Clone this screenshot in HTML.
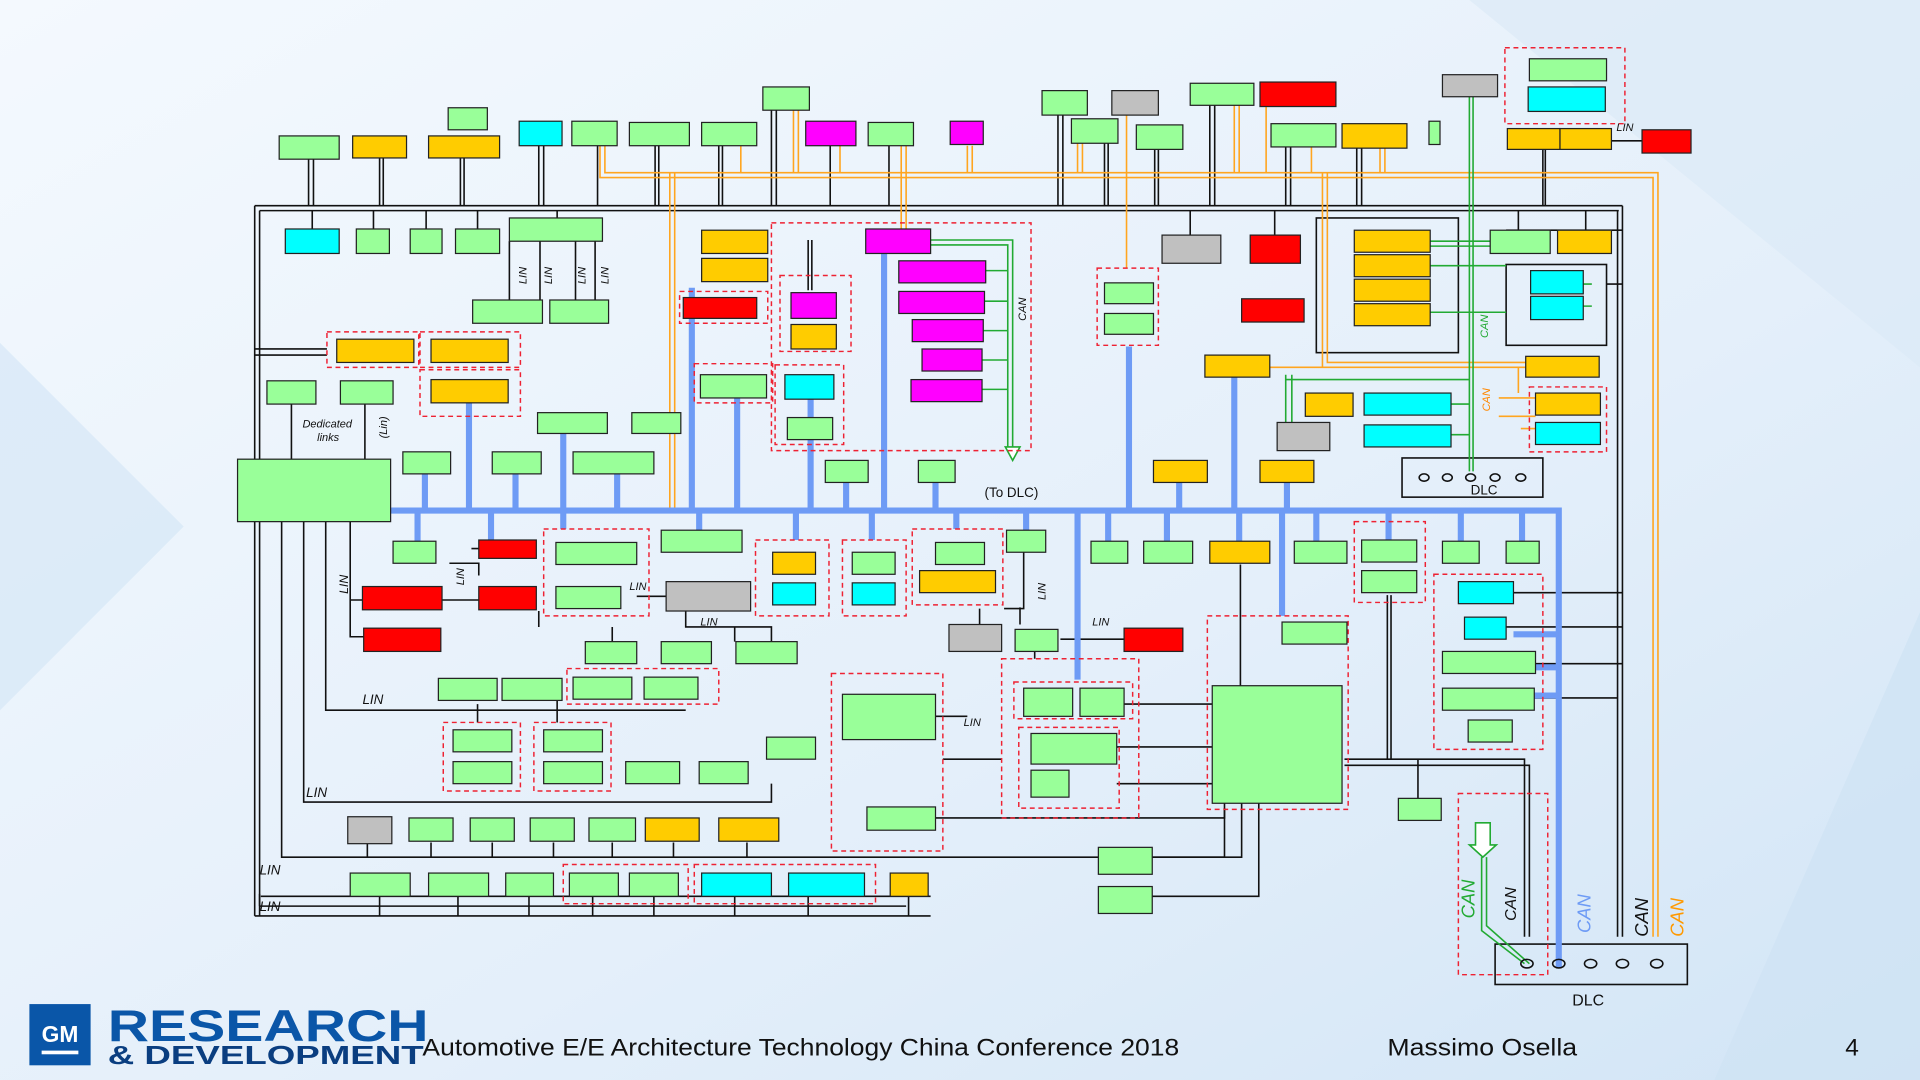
<!DOCTYPE html>
<html><head><meta charset="utf-8"><style>
html,body{margin:0;padding:0;width:1920px;height:1080px;overflow:hidden}
svg{display:block}
.g{fill:#99ff99}.y{fill:#ffcc00}.c{fill:#00ffff}.m{fill:#ff00ff}.r{fill:#ff0000}.s{fill:#c0c0c0}
.b rect, rect.b{stroke:#222;stroke-width:1}
.d{fill:none;stroke:#ee2233;stroke-width:1.2;stroke-dasharray:4 3}
.k{stroke:#111;stroke-width:1.3;fill:none}
.bl{stroke:#6e9bf5;stroke-width:5;fill:none}
.o{stroke:#ffa51f;stroke-width:1.3;fill:none}
.gr{stroke:#22aa33;stroke-width:1.3;fill:none}
.t{font-family:"Liberation Sans",sans-serif;font-style:italic;font-size:10px;fill:#111}
</style></head><body>
<svg width="1920" height="1080" viewBox="0 0 1568 882" preserveAspectRatio="none" xmlns="http://www.w3.org/2000/svg">
<defs><linearGradient id="bg" x1="0" y1="0" x2="1" y2="1"><stop offset="0" stop-color="#f4f9fe"/><stop offset="0.6" stop-color="#e4effa"/><stop offset="1" stop-color="#d2e5f6"/></linearGradient></defs>
<rect width="1568" height="882" fill="url(#bg)"/>
<polygon points="0,280 150,430 0,580" fill="#d6e7f6" opacity="0.7"/>
<polygon points="1200,0 1568,0 1568,300" fill="#dbe9f7" opacity="0.7"/>
<polygon points="1568,500 1400,882 1568,882" fill="#cfe2f4" opacity="0.7"/>

<g class="k">
<path d="M208,168H1325 M212,172H1322 M208,168V748 M212,172V740 M208,748H760 M212,740H740 M1325,168V765 M1321,172V765"/>
<path d="M252,130V168 M256,130V168 M310,129V168 M313,129V168 M376,129V168 M379,129V168 M440,119V168 M444,119V168 M488,119V168 M535,119V168 M538,119V168 M587,119V168 M590,119V168 M630,89V168 M634,89V168 M678,119V168 M726,119V168 M864,94V168 M868,94V168 M902,117V168 M905,117V168 M943,121V168 M946,121V168 M988,86V168 M992,86V168 M1050,120V168 M1054,120V168 M1108,121V168 M1112,121V168 M1260,122V168 M1262,122V168 M1316,115H1341"/>
<path d="M255,172V187 M305,172V187 M348,172V187 M390,172V187 M455,172V178 M416,197V245 M441,197V245 M470,197V245 M486,197V245 M660,196V237 M663,196V237 M972,172V192 M1041,172V192 M1240,172V188 M1295,172V188 M1230,188H1325 M1312,232H1325"/>
<path d="M238,330V375 M298,330V375 M208,285H267 M208,290H267 M230,426V700H1000V660 M248,426V655H630V640 M266,426V580H560 M286,426V520H297 M286,490H296 M385,448H391 M367,460H391V470 M360,490H391 M520,487H544 M560,499V512H630V524 M500,512V524 M440,499V512 M600,512V524 M390,575V590 M455,572V590 M213,732H760 M212,730V748 M310,732V748 M374,732V748 M432,732V748 M484,732V748 M534,732V748 M600,732V748 M660,732V748 M742,732V748"/>
<path d="M300,688V700 M352,688V700 M402,688V700 M452,688V700 M500,688V700 M550,688V700 M610,688V700 M764,585H790 M764,668H1000V656 M770,620H818 M836,451V497H820 M833,496V510 M800,497V510 M845,532V538 M866,522H918 M912,575H990 M912,610H990 M912,640H990 M930,575H990 M1013,461V560 M1014,656V700H940 M1028,656V732H940 M1098,620H1245V765 M1098,625H1249V765 M1133,486V620 M1136,486V620 M1158,620V652 M1236,484H1325 M1230,512H1325 M1254,542H1325 M1253,570H1321"/>
<rect x="1075" y="178" width="116" height="110"/><rect x="1230" y="216" width="82" height="66"/>
<rect x="1145" y="374" width="115" height="32"/><rect x="1221" y="771" width="157" height="33"/>
</g>
<g class="o">
<path d="M490,119V145H1350V765 M494,119V141H1354V765 M547,141V415 M551,141V415 M605,119V141 M648,89V141 M652,89V141 M686,119V141 M736,119V187 M740,119V187 M790,119V141 M794,119V141 M880,117V141 M884,117V141 M920,94V219 M1008,86V141 M1012,86V141 M1034,86V141 M1071,120V141 M1127,121V141 M1131,121V141 M1080,141V300H1246 M1084,141V296H1246 M1037,300H1080 M1240,300V321 M1224,325H1254 M1224,340H1254 M1242,350H1254"/>
</g>
<g class="gr">
<path d="M760,196H827V365 M760,200H823V365 M805,221H823 M804,246H823 M803,270H823 M802,294H823 M802,318H823 M1200,78V385 M1203,78V385 M1168,197H1217 M1168,201H1217 M1168,217H1230 M1168,255H1230 M1293,232H1300 M1293,250H1300 M1050,306V345 M1055,306V345 M1050,310H1200 M1185,330H1200 M1185,355H1200 M1210,700V760L1245,787 M1214,700V756L1249,787"/>
<path d="M821,365H833L827,376Z" fill="#fff"/>
<path d="M1205,672H1217V690H1222L1211,700L1200,690H1205Z" fill="#fff"/>
</g>
<g class="bl">
<path d="M319,417H1273V790"/>
<path d="M347,387V417 M421,387V417 M460,354V417 M504,387V417 M565,235V417 M602,324V417 M662,324V417 M691,393V417 M722,207V417 M764,393V417 M922,283V417 M963,393V417 M1008,308V417 M1051,393V417 M383,329V417 M341,417V442 M401,417V441 M460,417V432 M571,417V433 M650,417V441 M712,417V441 M781,417V432 M838,417V433 M880,417V555 M905,417V442 M953,417V442 M1012,417V442 M1047,417V503 M1075,417V442 M1134,417V441 M1193,417V442 M1243,417V442 M1236,518H1273 M1254,545H1273 M1253,568H1273"/>
</g>
<g class="d">
<rect x="1229" y="39" width="98" height="62"/><rect x="630" y="182" width="212" height="186"/><rect x="637" y="225" width="58" height="62"/><rect x="633" y="298" width="56" height="65"/><rect x="567" y="297" width="64" height="32"/><rect x="555" y="238" width="72" height="26"/>
<rect x="267" y="271" width="75" height="29"/><rect x="343" y="271" width="82" height="29"/><rect x="343" y="302" width="82" height="38"/><rect x="896" y="219" width="50" height="63"/><rect x="1249" y="316" width="63" height="53"/>
<rect x="444" y="432" width="86" height="71"/><rect x="617" y="441" width="60" height="62"/><rect x="688" y="441" width="52" height="62"/><rect x="745" y="432" width="74" height="62"/><rect x="1106" y="426" width="58" height="66"/><rect x="1171" y="469" width="89" height="143"/>
<rect x="463" y="546" width="124" height="29"/><rect x="362" y="590" width="63" height="56"/><rect x="436" y="590" width="63" height="56"/><rect x="679" y="550" width="91" height="145"/><rect x="818" y="538" width="112" height="130"/><rect x="828" y="557" width="97" height="30"/><rect x="832" y="594" width="82" height="66"/><rect x="986" y="503" width="115" height="158"/><rect x="460" y="706" width="102" height="32"/><rect x="567" y="706" width="148" height="32"/><rect x="1191" y="648" width="73" height="148"/>
</g>
<g class="b">
<rect class="g" x="228" y="111" width="49" height="19"/><rect class="y" x="288" y="111" width="44" height="18"/><rect class="y" x="350" y="111" width="58" height="18"/><rect class="g" x="366" y="88" width="32" height="18"/><rect class="c" x="424" y="99" width="35" height="20"/><rect class="g" x="467" y="99" width="37" height="20"/><rect class="g" x="514" y="100" width="49" height="19"/><rect class="g" x="573" y="100" width="45" height="19"/><rect class="g" x="623" y="71" width="38" height="19"/><rect class="m" x="658" y="99" width="41" height="20"/><rect class="g" x="709" y="100" width="37" height="19"/><rect class="m" x="776" y="99" width="27" height="19"/><rect class="g" x="851" y="74" width="37" height="20"/><rect class="s" x="908" y="74" width="38" height="20"/><rect class="g" x="875" y="97" width="38" height="20"/><rect class="g" x="928" y="102" width="38" height="20"/><rect class="g" x="972" y="68" width="52" height="18"/><rect class="r" x="1029" y="67" width="62" height="20"/><rect class="g" x="1038" y="101" width="53" height="19"/><rect class="y" x="1096" y="101" width="53" height="20"/><rect class="g" x="1167" y="99" width="9" height="19"/><rect class="s" x="1178" y="61" width="45" height="18"/><rect class="g" x="1249" y="48" width="63" height="18"/><rect class="c" x="1248" y="71" width="63" height="20"/><rect class="y" x="1231" y="105" width="43" height="17"/><rect class="y" x="1274" y="105" width="42" height="17"/><rect class="r" x="1341" y="106" width="40" height="19"/>
<rect class="c" x="233" y="187" width="44" height="20"/><rect class="g" x="291" y="187" width="27" height="20"/><rect class="g" x="335" y="187" width="26" height="20"/><rect class="g" x="372" y="187" width="36" height="20"/><rect class="g" x="416" y="178" width="76" height="19"/><rect class="g" x="386" y="245" width="57" height="19"/><rect class="g" x="449" y="245" width="48" height="19"/><rect class="y" x="573" y="188" width="54" height="19"/><rect class="y" x="573" y="211" width="54" height="19"/><rect class="r" x="558" y="243" width="60" height="17"/><rect class="m" x="707" y="187" width="53" height="20"/><rect class="m" x="734" y="213" width="71" height="18"/><rect class="m" x="734" y="238" width="70" height="18"/><rect class="m" x="745" y="261" width="58" height="18"/><rect class="m" x="753" y="285" width="49" height="18"/><rect class="m" x="744" y="310" width="58" height="18"/><rect class="m" x="646" y="239" width="37" height="21"/><rect class="y" x="646" y="265" width="37" height="20"/><rect class="c" x="641" y="306" width="40" height="20"/><rect class="g" x="643" y="341" width="37" height="18"/><rect class="g" x="572" y="306" width="54" height="19"/>
<rect class="y" x="275" y="277" width="63" height="19"/><rect class="y" x="352" y="277" width="63" height="19"/><rect class="y" x="352" y="310" width="63" height="19"/><rect class="g" x="218" y="311" width="40" height="19"/><rect class="g" x="278" y="311" width="43" height="19"/><rect class="g" x="194" y="375" width="125" height="51"/>
<rect class="g" x="439" y="337" width="57" height="17"/><rect class="g" x="516" y="337" width="40" height="17"/><rect class="g" x="329" y="369" width="39" height="18"/><rect class="g" x="402" y="369" width="40" height="18"/><rect class="g" x="468" y="369" width="66" height="18"/><rect class="g" x="674" y="376" width="35" height="18"/><rect class="g" x="750" y="376" width="30" height="18"/>
<rect class="g" x="902" y="231" width="40" height="17"/><rect class="g" x="902" y="256" width="40" height="17"/><rect class="s" x="949" y="192" width="48" height="23"/><rect class="r" x="1021" y="192" width="41" height="23"/><rect class="r" x="1014" y="244" width="51" height="19"/><rect class="y" x="984" y="290" width="53" height="18"/>
<rect class="y" x="1106" y="188" width="62" height="18"/><rect class="y" x="1106" y="208" width="62" height="18"/><rect class="y" x="1106" y="228" width="62" height="18"/><rect class="y" x="1106" y="248" width="62" height="18"/>
<rect class="g" x="1217" y="188" width="49" height="19"/><rect class="y" x="1272" y="188" width="44" height="19"/><rect class="c" x="1250" y="221" width="43" height="19"/><rect class="c" x="1250" y="242" width="43" height="19"/><rect class="y" x="1246" y="291" width="60" height="17"/><rect class="y" x="1066" y="321" width="39" height="19"/><rect class="c" x="1114" y="321" width="71" height="18"/><rect class="c" x="1114" y="347" width="71" height="18"/><rect class="s" x="1043" y="345" width="43" height="23"/><rect class="y" x="1254" y="321" width="53" height="18"/><rect class="c" x="1254" y="345" width="53" height="18"/><rect class="y" x="942" y="376" width="44" height="18"/><rect class="y" x="1029" y="376" width="44" height="18"/>
<rect class="g" x="321" y="442" width="35" height="18"/><rect class="r" x="391" y="441" width="47" height="15"/><rect class="g" x="454" y="443" width="66" height="18"/><rect class="g" x="454" y="479" width="53" height="18"/><rect class="r" x="296" y="479" width="65" height="19"/><rect class="r" x="391" y="479" width="47" height="19"/><rect class="r" x="297" y="513" width="63" height="19"/><rect class="g" x="540" y="433" width="66" height="18"/><rect class="s" x="544" y="475" width="69" height="24"/><rect class="y" x="631" y="451" width="35" height="18"/><rect class="c" x="631" y="476" width="35" height="18"/><rect class="g" x="696" y="451" width="35" height="18"/><rect class="c" x="696" y="476" width="35" height="18"/><rect class="g" x="764" y="443" width="40" height="18"/><rect class="y" x="751" y="466" width="62" height="18"/><rect class="g" x="822" y="433" width="32" height="18"/><rect class="s" x="775" y="510" width="43" height="22"/><rect class="g" x="829" y="514" width="35" height="18"/><rect class="r" x="918" y="513" width="48" height="19"/><rect class="g" x="891" y="442" width="30" height="18"/><rect class="g" x="934" y="442" width="40" height="18"/><rect class="y" x="988" y="442" width="49" height="18"/><rect class="g" x="1057" y="442" width="43" height="18"/><rect class="g" x="1112" y="441" width="45" height="18"/><rect class="g" x="1112" y="466" width="45" height="18"/><rect class="g" x="1178" y="442" width="30" height="18"/><rect class="g" x="1230" y="442" width="27" height="18"/><rect class="c" x="1191" y="475" width="45" height="18"/><rect class="c" x="1196" y="504" width="34" height="18"/><rect class="g" x="1178" y="532" width="76" height="18"/><rect class="g" x="1178" y="562" width="75" height="18"/><rect class="g" x="1199" y="588" width="36" height="18"/>
<rect class="g" x="478" y="524" width="42" height="18"/><rect class="g" x="540" y="524" width="41" height="18"/><rect class="g" x="601" y="524" width="50" height="18"/><rect class="g" x="358" y="554" width="48" height="18"/><rect class="g" x="410" y="554" width="49" height="18"/><rect class="g" x="468" y="553" width="48" height="18"/><rect class="g" x="526" y="553" width="44" height="18"/><rect class="g" x="370" y="596" width="48" height="18"/><rect class="g" x="370" y="622" width="48" height="18"/><rect class="g" x="444" y="596" width="48" height="18"/><rect class="g" x="444" y="622" width="48" height="18"/><rect class="g" x="511" y="622" width="44" height="18"/><rect class="g" x="571" y="622" width="40" height="18"/><rect class="g" x="626" y="602" width="40" height="18"/>
<rect class="g" x="688" y="567" width="76" height="37"/><rect class="g" x="708" y="659" width="56" height="19"/><rect class="g" x="836" y="562" width="40" height="23"/><rect class="g" x="882" y="562" width="36" height="23"/><rect class="g" x="842" y="599" width="70" height="25"/><rect class="g" x="842" y="629" width="31" height="22"/><rect class="g" x="990" y="560" width="106" height="96"/><rect class="g" x="1047" y="508" width="53" height="18"/><rect class="g" x="1142" y="652" width="35" height="18"/><rect class="g" x="897" y="692" width="44" height="22"/><rect class="g" x="897" y="724" width="44" height="22"/>
<rect class="s" x="284" y="667" width="36" height="22"/><rect class="g" x="334" y="668" width="36" height="19"/><rect class="g" x="384" y="668" width="36" height="19"/><rect class="g" x="433" y="668" width="36" height="19"/><rect class="g" x="481" y="668" width="38" height="19"/><rect class="y" x="527" y="668" width="44" height="19"/><rect class="y" x="587" y="668" width="49" height="19"/>
<rect class="g" x="286" y="713" width="49" height="19"/><rect class="g" x="350" y="713" width="49" height="19"/><rect class="g" x="413" y="713" width="39" height="19"/><rect class="g" x="465" y="713" width="40" height="19"/><rect class="g" x="514" y="713" width="40" height="19"/><rect class="c" x="573" y="713" width="57" height="19"/><rect class="c" x="644" y="713" width="62" height="19"/><rect class="y" x="727" y="713" width="31" height="19"/>
</g>
<g fill="none" stroke="#111" stroke-width="1.3">
<ellipse cx="1163" cy="390" rx="4" ry="3"/><ellipse cx="1182" cy="390" rx="4" ry="3"/><ellipse cx="1201" cy="390" rx="4" ry="3"/><ellipse cx="1221" cy="390" rx="4" ry="3"/><ellipse cx="1242" cy="390" rx="4" ry="3"/>
<ellipse cx="1247" cy="787" rx="5" ry="3.5"/><ellipse cx="1273" cy="787" rx="5" ry="3.5"/><ellipse cx="1299" cy="787" rx="5" ry="3.5"/><ellipse cx="1325" cy="787" rx="5" ry="3.5"/><ellipse cx="1353" cy="787" rx="5" ry="3.5"/>
</g>
<g class="t">
<text x="247" y="349" font-size="9">Dedicated</text><text x="259" y="360" font-size="9">links</text>
<text transform="translate(316,358) rotate(-90)" font-size="9">(Lin)</text>
<text transform="translate(430,232) rotate(-90)" font-size="9">LIN</text><text transform="translate(451,232) rotate(-90)" font-size="9">LIN</text><text transform="translate(478,232) rotate(-90)" font-size="9">LIN</text><text transform="translate(497,232) rotate(-90)" font-size="9">LIN</text>
<text transform="translate(838,262) rotate(-90)" font-size="9">CAN</text>
<text transform="translate(1215,276) rotate(-90)" font-size="9" fill="#22aa33">CAN</text>
<text transform="translate(1217,336) rotate(-90)" font-size="9" fill="#ff8800">CAN</text>
<text x="1320" y="107" font-size="9">LIN</text>
<text transform="translate(284,485) rotate(-90)">LIN</text><text transform="translate(379,478) rotate(-90)" font-size="9">LIN</text>
<text x="514" y="482" font-size="9">LIN</text><text x="572" y="511" font-size="9">LIN</text><text transform="translate(854,490) rotate(-90)" font-size="9">LIN</text><text x="892" y="511" font-size="9">LIN</text><text x="787" y="593" font-size="9">LIN</text>
<text x="296" y="575" font-size="11">LIN</text><text x="250" y="651" font-size="11">LIN</text><text x="212" y="714" font-size="11">LIN</text><text x="212" y="744" font-size="11">LIN</text>
<text x="804" y="406" font-style="normal" font-size="11">(To DLC)</text>
<text x="1201" y="404" font-style="normal" font-size="11">DLC</text>
<text x="1284" y="821" font-style="normal" font-size="13">DLC</text>
<text transform="translate(1204,750) rotate(-90)" font-size="15" fill="#22aa33">CAN</text>
<text transform="translate(1238,752) rotate(-90)" font-size="13">CAN</text>
<text transform="translate(1299,762) rotate(-90)" font-size="15" fill="#6e9bf5">CAN</text>
<text transform="translate(1346,765) rotate(-90)" font-size="15">CAN</text>
<text transform="translate(1375,765) rotate(-90)" font-size="15" fill="#ff9900">CAN</text>
</g>
<rect x="24" y="820" width="50" height="50" fill="#0a56a8"/>
<text x="49" y="851" text-anchor="middle" font-family="Liberation Sans,sans-serif" font-weight="bold" font-size="19" fill="#fff" textLength="30" lengthAdjust="spacingAndGlyphs">GM</text>
<rect x="34" y="858" width="30" height="3" fill="#fff"/>
<text x="88" y="850" font-family="Liberation Sans,sans-serif" font-weight="bold" font-size="36" fill="#0a56a8" textLength="262" lengthAdjust="spacingAndGlyphs">RESEARCH</text>
<text x="88" y="869" font-family="Liberation Sans,sans-serif" font-weight="bold" font-size="21" fill="#0a3e80" textLength="258" lengthAdjust="spacingAndGlyphs">&amp; DEVELOPMENT</text>
<g font-family="Liberation Sans,sans-serif" font-size="20" fill="#111">
<text x="345" y="862" textLength="618" lengthAdjust="spacingAndGlyphs">Automotive E/E Architecture Technology China Conference 2018</text>
<text x="1133" y="862" textLength="155" lengthAdjust="spacingAndGlyphs">Massimo Osella</text>
<text x="1507" y="862">4</text>
</g>
</svg>
</body></html>
